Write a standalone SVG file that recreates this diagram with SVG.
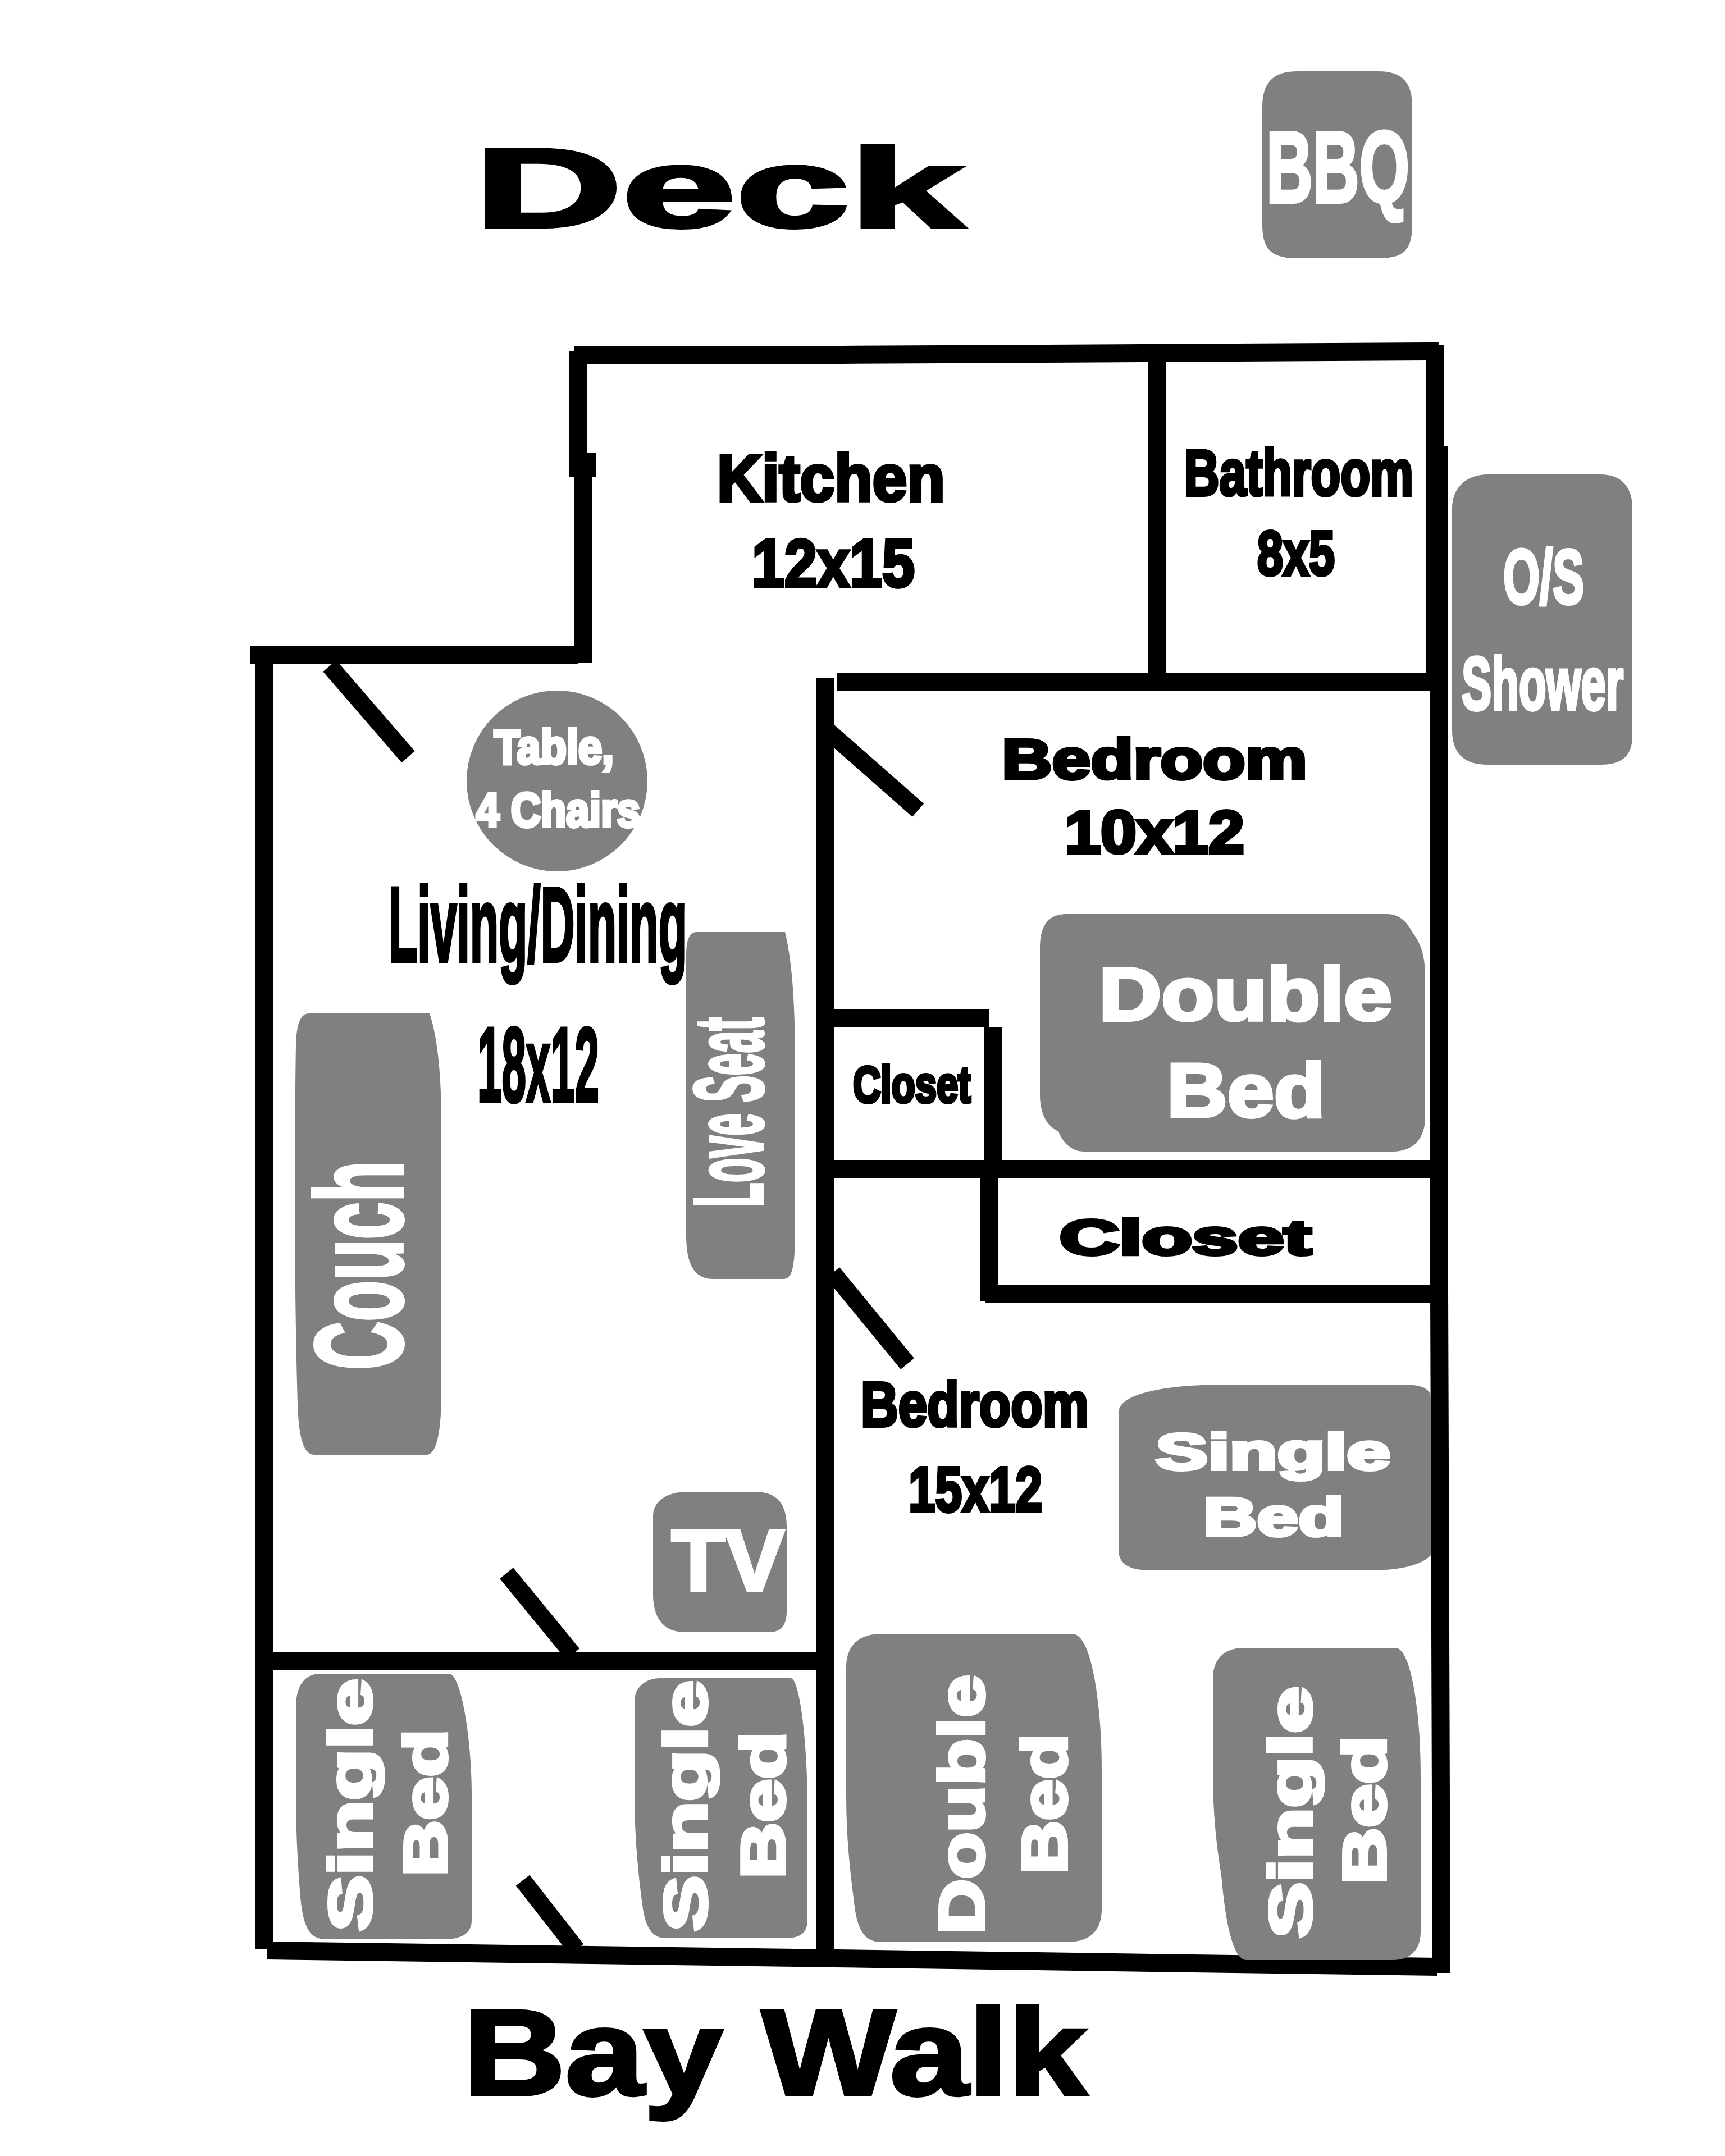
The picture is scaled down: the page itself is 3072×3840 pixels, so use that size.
<svg xmlns="http://www.w3.org/2000/svg" width="3072" height="3840" viewBox="0 0 3072 3840">
<style>
text{font-family:"Liberation Sans",Arial,sans-serif;font-weight:bold}
.k{fill:#000;stroke:#000;stroke-width:6}
.w{fill:#fff;stroke:#fff;stroke-width:6}
.g{fill:#808080}
.wall{fill:none;stroke:#000;stroke-width:32;stroke-linecap:butt}
.door{fill:none;stroke:#000;stroke-width:31}
</style>
<rect width="3072" height="3840" fill="#fff"/>
<g id="walls">
<path class="wall" d="M1022 632H1500L2562 626"/>
<path class="wall" d="M1030 625V850M1038 850V1180"/>
<rect x="1015" y="807" width="47" height="43" fill="#000"/>
<path class="wall" d="M446 1167H1030"/>
<path class="wall" d="M470 1155V3472"/>
<path class="wall" d="M1470 1207V3475"/>
<path class="wall" d="M1490 1215H2550"/>
<path class="wall" d="M2060 640V1215"/>
<path class="wall" d="M2555 615V1200"/>
<path class="wall" d="M2563 795V2300L2567 3514"/>
<path class="wall" d="M1455 1813H1761"/>
<path class="wall" d="M1769 1829V2072"/>
<path class="wall" d="M1455 2082H2563"/>
<path class="wall" d="M1762 2082V2317"/>
<path class="wall" d="M1755 2304H2550"/>
<path class="wall" d="M455 2958H1485"/>
<path d="M476 3458L2560 3487V3519L476 3490Z" fill="#000"/>
</g>
<g id="doors">
<path class="door" d="M587 1186L727 1348"/>
<path class="door" d="M1470 1298L1635 1443"/>
<path class="door" d="M1483 2267L1616 2429"/>
<path class="door" d="M902 2802L1020 2946"/>
<path class="door" d="M931 3349L1027 3472"/>
</g>
<g id="furniture">
<path class="g" d="M2310 127H2455C2500 127 2515 150 2515 190V400C2515 445 2500 460 2455 460H2310C2265 460 2248 445 2248 400V190C2248 150 2265 127 2310 127Z"/>
<path class="g" d="M2650 845H2850C2890 845 2907 870 2907 905V1310C2907 1345 2890 1362 2850 1362H2650C2605 1362 2586 1340 2586 1300V905C2586 870 2610 845 2650 845Z"/>
<circle class="g" cx="992" cy="1391" r="161"/>
<path class="g" d="M1240 1660H1398C1410 1710 1416 1780 1416 1900V2190C1416 2260 1410 2278 1395 2278H1270C1235 2278 1222 2250 1222 2200V1700C1222 1675 1228 1660 1240 1660Z"/>
<path class="g" d="M550 1805H765C780 1850 786 1920 786 2000V2480C786 2560 775 2591 760 2591H560C540 2591 532 2560 530 2500C524 2300 524 2050 527 1860C528 1825 535 1805 550 1805Z"/>
<path class="g" d="M1900 1628H2470C2490 1628 2505 1640 2515 1660C2530 1680 2538 1700 2538 1740V1990C2538 2030 2515 2051 2480 2051H1930C1905 2051 1890 2030 1885 2015C1862 2005 1852 1980 1852 1950V1690C1852 1650 1865 1628 1900 1628Z"/>
<path class="g" d="M2040 2480C2080 2470 2120 2466 2200 2466H2500C2535 2466 2548 2475 2548 2490V2770C2535 2785 2500 2797 2440 2797H2050C2010 2797 1992 2785 1992 2760V2520C1990 2500 2010 2488 2040 2480Z"/>
<path class="g" d="M1225 2657H1345C1385 2657 1401 2680 1401 2720V2870C1401 2895 1390 2907 1370 2907H1220C1180 2907 1163 2880 1163 2840V2700C1163 2675 1185 2657 1225 2657Z"/>
<path class="g" d="M570 2981H800C820 2981 840 3090 840 3200V3420C840 3445 820 3454 790 3454H580C550 3454 540 3430 535 3380C530 3320 527 3260 527 3200V3040C527 3000 545 2981 570 2981Z"/>
<path class="g" d="M1175 2989H1408C1425 2989 1438 3110 1438 3220V3420C1438 3442 1425 3452 1400 3452H1185C1160 3452 1150 3430 1145 3400C1135 3330 1130 3260 1130 3200V3030C1130 3005 1150 2989 1175 2989Z"/>
<path class="g" d="M1570 2910H1910C1945 2910 1962 3040 1962 3150V3400C1962 3440 1940 3459 1900 3459H1570C1535 3459 1525 3430 1520 3380C1512 3320 1507 3260 1507 3200V2970C1507 2930 1530 2910 1570 2910Z"/>
<path class="g" d="M2215 2935H2485C2515 2935 2530 3060 2530 3160V3440C2530 3475 2510 3491 2480 3491H2220C2195 3491 2182 3420 2175 3340C2165 3280 2160 3220 2160 3160V2990C2160 2955 2180 2935 2215 2935Z"/>
</g>
<g id="labels">
<text class="k" x="845" y="404" font-size="200" textLength="870" lengthAdjust="spacingAndGlyphs">Deck</text>
<text class="w" x="2255" y="360" font-size="180" textLength="255" lengthAdjust="spacingAndGlyphs">BBQ</text>
<text class="k" x="1277" y="892" font-size="116" textLength="406" lengthAdjust="spacingAndGlyphs">Kitchen</text>
<text class="k" x="1339" y="1045" font-size="120" textLength="290" lengthAdjust="spacingAndGlyphs">12x15</text>
<text class="k" x="2109" y="882" font-size="115" textLength="408" lengthAdjust="spacingAndGlyphs">Bathroom</text>
<text class="k" x="2239" y="1024" font-size="112" textLength="138" lengthAdjust="spacingAndGlyphs">8x5</text>
<text class="w" x="2677" y="1075" font-size="137" textLength="144" lengthAdjust="spacingAndGlyphs">O/S</text>
<text class="w" x="2603" y="1264" font-size="134" textLength="288" lengthAdjust="spacingAndGlyphs">Shower</text>
<text class="k" x="1784" y="1387" font-size="100" textLength="544" lengthAdjust="spacingAndGlyphs">Bedroom</text>
<text class="k" x="1896" y="1519" font-size="107" textLength="320" lengthAdjust="spacingAndGlyphs">10x12</text>
<text class="w" x="1957" y="1817" font-size="133" textLength="522" lengthAdjust="spacingAndGlyphs">Double</text>
<text class="w" x="2078" y="1989" font-size="136" textLength="282" lengthAdjust="spacingAndGlyphs">Bed</text>
<text class="k" x="1519" y="1963" font-size="90" textLength="210" lengthAdjust="spacingAndGlyphs">Closet</text>
<text class="k" x="1887" y="2234" font-size="88" textLength="448" lengthAdjust="spacingAndGlyphs">Closet</text>
<text class="k" x="1533" y="2540" font-size="112" textLength="406" lengthAdjust="spacingAndGlyphs">Bedroom</text>
<text class="k" x="1618" y="2692" font-size="114" textLength="238" lengthAdjust="spacingAndGlyphs">15x12</text>
<text class="w" x="2058" y="2617" font-size="90" textLength="418" lengthAdjust="spacingAndGlyphs">Single</text>
<text class="w" x="2143" y="2735" font-size="96" textLength="250" lengthAdjust="spacingAndGlyphs">Bed</text>
<text class="w" x="880" y="1360" font-size="85" textLength="213" lengthAdjust="spacingAndGlyphs">Table,</text>
<text class="w" x="848" y="1472" font-size="85" textLength="292" lengthAdjust="spacingAndGlyphs">4 Chairs</text>
<text class="k" x="692" y="1712" font-size="190" textLength="532" lengthAdjust="spacingAndGlyphs">Living/Dining</text>
<text class="k" x="850" y="1962" font-size="190" textLength="217" lengthAdjust="spacingAndGlyphs">18x12</text>
<text class="w" transform="translate(1358 2150) rotate(-90)" font-size="175" textLength="338" lengthAdjust="spacingAndGlyphs">Love Seat</text>
<text class="w" transform="translate(716 2440) rotate(-90)" font-size="220" textLength="372" lengthAdjust="spacingAndGlyphs">Couch</text>
<text class="w" x="1196" y="2833" font-size="154" textLength="200" lengthAdjust="spacingAndGlyphs">TV</text>
<text class="w" transform="translate(661 3440) rotate(-90)" font-size="108" textLength="450" lengthAdjust="spacingAndGlyphs">Single</text>
<text class="w" transform="translate(795 3342) rotate(-90)" font-size="108" textLength="262" lengthAdjust="spacingAndGlyphs">Bed</text>
<text class="w" transform="translate(1258 3440) rotate(-90)" font-size="108" textLength="447" lengthAdjust="spacingAndGlyphs">Single</text>
<text class="w" transform="translate(1397 3346) rotate(-90)" font-size="110" textLength="262" lengthAdjust="spacingAndGlyphs">Bed</text>
<text class="w" transform="translate(1752 3445) rotate(-90)" font-size="114" textLength="462" lengthAdjust="spacingAndGlyphs">Double</text>
<text class="w" transform="translate(1899 3338) rotate(-90)" font-size="114" textLength="250" lengthAdjust="spacingAndGlyphs">Bed</text>
<text class="w" transform="translate(2335 3452) rotate(-90)" font-size="106" textLength="448" lengthAdjust="spacingAndGlyphs">Single</text>
<text class="w" transform="translate(2467 3356) rotate(-90)" font-size="108" textLength="264" lengthAdjust="spacingAndGlyphs">Bed</text>
<text class="k" x="825" y="3731" font-size="217" textLength="1110" lengthAdjust="spacingAndGlyphs">Bay Walk</text>
</g>
</svg>
